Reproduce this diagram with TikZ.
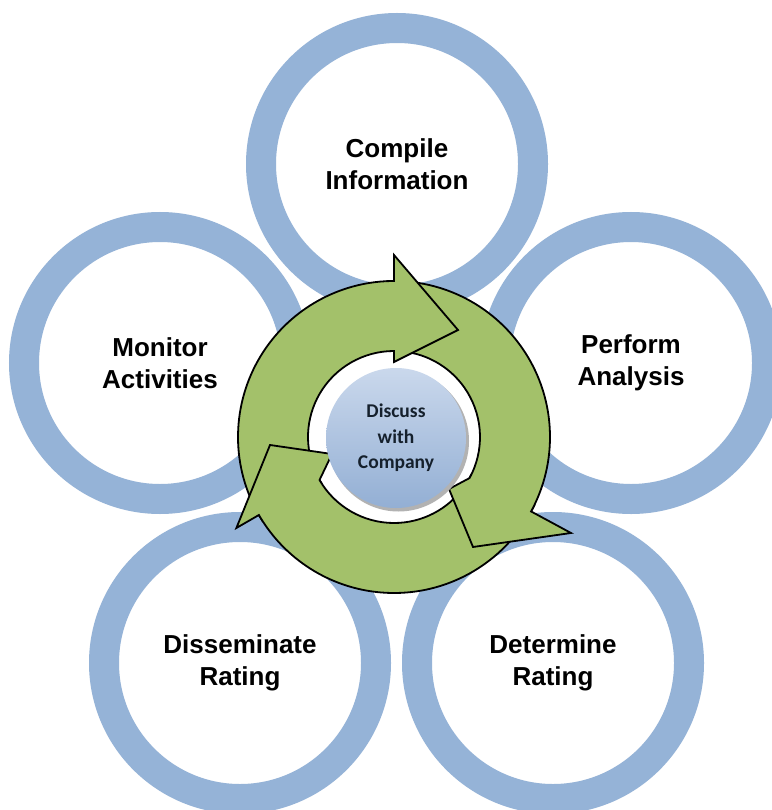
\documentclass[tikz,border=0pt]{standalone}
\usepackage{fontspec}
\setmainfont{Liberation Sans}
\newfontfamily\carlito{Carlito}
\usetikzlibrary{calc}
\definecolor{ringblue}{HTML}{95B3D7}
\definecolor{arrgreen}{HTML}{A3C16A}
\definecolor{discA}{HTML}{CAD8EC}
\definecolor{discB}{HTML}{93AFD4}
\definecolor{disctext}{HTML}{15202C}
% body of one circular arrow: tail angle #1, base angle #2
\newcommand\greenbody[2]{%
  \fill[arrgreen] ($(O)+(#1:156)$) arc[start angle=#1,end angle=#2,radius=156]
     -- ($(O)+(#2:86)$) arc[start angle=#2,end angle=#1,radius=86] -- cycle;
  \draw[arredge] ($(O)+(#1:156)$) arc[start angle=#1,end angle=#2,radius=156];
  \draw[arredge] ($(O)+(#2:86)$) arc[start angle=#2,end angle=#1,radius=86];}
% head of one circular arrow: base angle #1, outer barb #2, tip #3, inner barb #4
\newcommand\greenhead[4]{%
  \fill[arrgreen] ($(O)+(#1+3:156)$) arc[start angle=#1+3,end angle=#1,radius=156]
     -- (#2) -- (#3) -- (#4) -- ($(O)+(#1:86)$)
     arc[start angle=#1,end angle=#1+3,radius=86] -- cycle;
  \draw[arredge] ($(O)+(#1+3:156)$) arc[start angle=#1+3,end angle=#1,radius=156]
     -- (#2) -- (#3) -- (#4) -- ($(O)+(#1:86)$)
     arc[start angle=#1,end angle=#1+3,radius=86];}
\begin{document}
\begin{tikzpicture}[x=1pt,y=1pt,
  ring/.style={circle, draw=ringblue, line width=30pt, minimum size=272pt,
    inner sep=0pt, align=center, font=\bfseries\fontsize{26}{32}\selectfont},
  arredge/.style={draw=black, line width=1.8pt, line join=miter},
  disc/.style={circle, minimum size=140pt, inner sep=0pt, top color=discA,
    bottom color=discB, align=center, text=disctext,
    font=\carlito\bfseries\fontsize{19.5}{25.5}\selectfont},
]
\useasboundingbox (0,0) rectangle (771,-810);
\fill[white] (0,0) rectangle (771,-810);

% outer rings
\node[ring] (compile) at (397,-164) {Compile\\Information};
\node[ring] (monitor) at (160,-363) {Monitor\\Activities};
\node[ring] (perform) at (631,-363) {Perform\\Analysis};
\node[ring] (dissem) at (240,-663) {Disseminate\\Rating};
\node[ring] (determ) at (553,-663) {Determine\\Rating};

% circular arrows
\coordinate (O) at (394,-437);
\greenbody{205}{90}
\greenbody{85}{-28.5}
\greenbody{-35}{-150}

% head A (top)
\coordinate (Aout) at ($(O)+(90:182)$);
\coordinate (Atip) at (458,-330);
\coordinate (Ain) at ($(O)+(90:75)$);
\greenhead{90}{Aout}{Atip}{Ain}

% head B (right)
\coordinate (Bout) at (571,-533);
\coordinate (Btip) at (473,-547);
\coordinate (Bin) at (449,-489);
\greenhead{-28.5}{Bout}{Btip}{Bin}

% head C (left)
\coordinate (Cout) at ($(O)+(210:182)$);
\coordinate (Ctip) at (270,-445);
\coordinate (Cin) at (332,-454);
\greenhead{-150}{Cout}{Ctip}{Cin}

% centre disc
\fill[gray!60] (398.5,-441) circle (70.5);
\node[disc] (discuss) at (396,-438) {Discuss\\with\\Company};
\end{tikzpicture}
\end{document}
